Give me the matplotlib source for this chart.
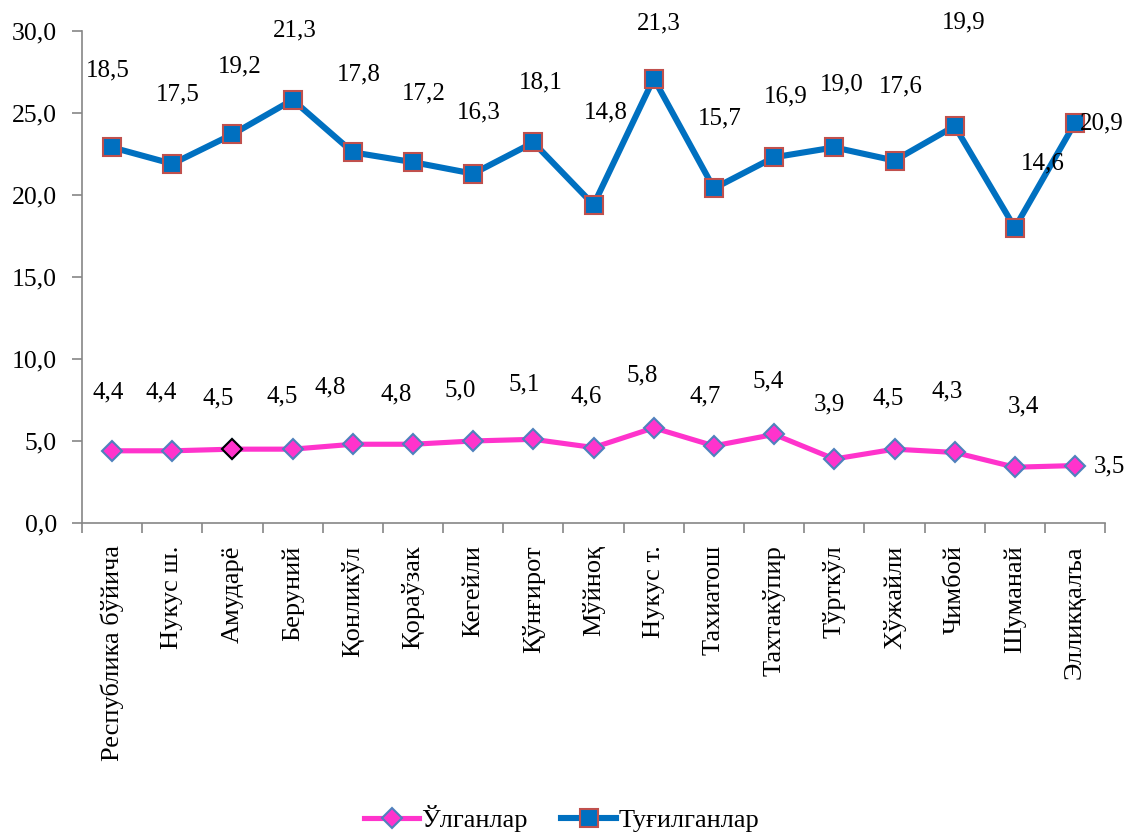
import matplotlib
matplotlib.use("Agg")
import matplotlib.pyplot as plt
import numpy as np

categories = ["Республика бўйича", "Нукус ш.", "Амударё", "Беруний", "Қонликўл",
              "Қораўзак", "Кегейли", "Қўнғирот", "Мўйноқ", "Нукус т.", "Тахиатош",
              "Тахтакўпир", "Тўрткўл", "Хўжайли", "Чимбой", "Шуманай", "Элликқалъа"]
deaths = [4.4, 4.4, 4.5, 4.5, 4.8, 4.8, 5.0, 5.1, 4.6, 5.8, 4.7, 5.4, 3.9, 4.5, 4.3, 3.4, 3.5]
births = [18.5, 17.5, 19.2, 21.3, 17.8, 17.2, 16.3, 18.1, 14.8, 21.3, 15.7, 16.9, 19.0, 17.6, 19.9, 14.6, 20.9]

# label offsets in pixels (manual label placement as in the reference)
death_off = [(-4, 58), (-11, 58), (-14, 51), (-10, 53), (-23, 57), (-17, 50), (-13, 51),
             (-9, 55), (-7, 51), (-12, 52), (-9, 49), (-6, 53), (-5, 55), (-6, 51),
             (-7, 61), (9, 61), (34, -1)]
birth_off = [(-4, 77), (5, 69), (7, 68), (2, 69), (6, 78), (11, 69), (6, 61), (7, 60),
             (12, 92), (5, 55), (6, 70), (12, 61), (7, 63), (6, 74), (9, 104), (28, 64),
             (27, -1)]

plt.rcParams['font.family'] = ['Liberation Serif', 'DejaVu Serif']

fig = plt.figure(figsize=(11.3, 8.35), dpi=100)
ax = fig.add_axes([0.0726, 0.3737, 0.9054, 0.5892])

x = np.arange(len(categories))
d = np.array(deaths)
b_stacked = d + np.array(births)

pink = '#FF33CC'
blue = '#0070C0'

ax.plot(x, d, color=pink, lw=3.7, marker='D', markersize=10.5,
        markerfacecolor=pink, markeredgecolor='#4F81BD', markeredgewidth=1.5,
        label='Ўлганлар', zorder=3)
ax.plot(x[2:3], d[2:3], linestyle='none', marker='D', markersize=10.5,
        markerfacecolor=pink, markeredgecolor='black', markeredgewidth=1.5, zorder=4)
ax.plot(x, b_stacked, color=blue, lw=4.4, marker='s', markersize=13,
        markerfacecolor=blue, markeredgecolor='#C0504D', markeredgewidth=1.5,
        label='Туғилганлар', zorder=3)

def fmt(v):
    return f"{v:.1f}".replace('.', ',')

for i in range(len(x)):
    ax.annotate(fmt(deaths[i]), (x[i], d[i]), xytext=death_off[i],
                textcoords='offset pixels', ha='center', va='center',
                fontsize=18, annotation_clip=False)
    ax.annotate(fmt(births[i]), (x[i], b_stacked[i]), xytext=birth_off[i],
                textcoords='offset pixels', ha='center', va='center',
                fontsize=18, annotation_clip=False)

ax.set_xlim(-0.5, len(x) - 0.5)
ax.set_ylim(0, 30)
ax.set_yticks(np.arange(0, 31, 5))
ax.set_yticklabels([fmt(v) for v in np.arange(0, 31, 5)], fontsize=18.5)

ax.set_xticks(x)
ax.set_xticklabels(categories, rotation=90, fontsize=19, va='top', ha='center')
ax.set_xticks(np.arange(-0.5, len(x), 1), minor=True)
ax.tick_params(axis='x', which='major', length=0, pad=16)
ax.tick_params(axis='x', which='minor', length=7, color='#868686', width=1.2, direction='out')
ax.tick_params(axis='y', length=7, color='#868686', width=1.2, direction='out', pad=11)

for s in ['top', 'right']:
    ax.spines[s].set_visible(False)
for s in ['left', 'bottom']:
    ax.spines[s].set_color('#868686')
    ax.spines[s].set_linewidth(1.2)

leg = fig.legend(loc='center', bbox_to_anchor=(0.497, 0.02), ncol=2, frameon=False,
                 fontsize=19, handlelength=2.1, numpoints=1, columnspacing=1.25,
                 handletextpad=0.08)

fig.savefig('out.png', dpi=100)
